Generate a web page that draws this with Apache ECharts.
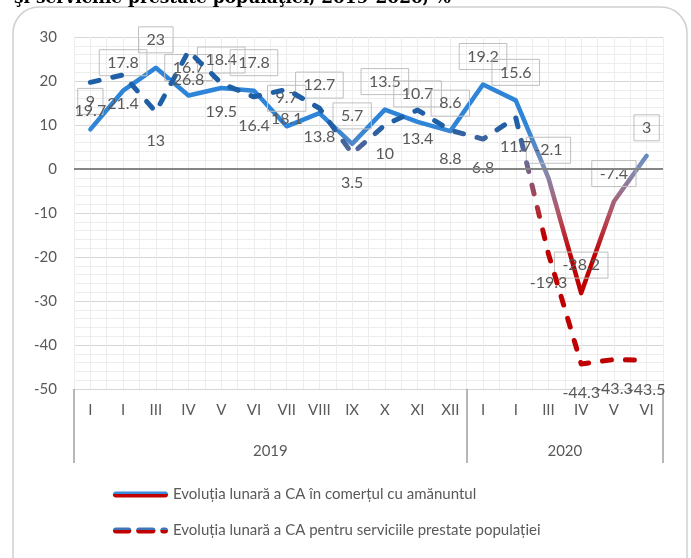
<!DOCTYPE html>
<html>
<head>
<meta charset="utf-8">
<script src="https://cdn.jsdelivr.net/npm/echarts@6/dist/echarts.min.js"></script>
<style>
  html, body { margin: 0; padding: 0; background: #fff; }
  #main { width: 691px; height: 558px; }
</style>
</head>
<body>
<div id="main"></div>
<script>
// luni (eticheta a doua apare ca "I" in original)
const months = ['I', 'I', 'III', 'IV', 'V', 'VI', 'VII', 'VIII', 'IX', 'X', 'XI', 'XII', 'I', 'I', 'III', 'IV', 'V', 'VI']
const years = ['2019', '2020']
const monthsPerYear = [12, 6]

const nameRetail = 'Evoluția lunară a CA în comerțul cu amănuntul'
const nameServices = 'Evoluția lunară a CA pentru serviciile prestate populației'

const retail = [9, 17.8, 23, 16.7, 18.4, 17.8, 9.7, 12.7, 5.7, 13.5, 10.7, 8.6, 19.2, 15.6, -2.1, -28.2, -7.4, 3]
const services = [19.7, 21.4, 13, 26.8, 19.5, 16.4, 18.1, 13.8, 3.5, 10, 13.4, 8.8, 6.8, 11.7, -19.3, -44.3, -43.3, -43.5]

const yMin = -50
const yMax = 30
const yStep = 10

// limitele si centrele grupurilor de ani pe axa 0..18
let bounds = [0]
let centers = []
monthsPerYear.forEach(n => {
    let start = bounds[bounds.length - 1]
    centers.push(start + n / 2)
    bounds.push(start + n)
})
const total = bounds[bounds.length - 1]

const font = 'Lato'
const textColor = '#595959'
const red = '#C00000'

var myChart = echarts.init(document.getElementById('main'))

function halfGradient(top, bottom) {
    return new echarts.graphic.LinearGradient(0, 0, 0, 1, [
        { offset: 0, color: top },
        { offset: 0.5, color: top },
        { offset: 0.5, color: bottom },
        { offset: 1, color: bottom }
    ])
}

var option = {
    animation: false,
    backgroundColor: '#fff',
    textStyle: { fontFamily: font },
    graphic: [
        {
            type: 'rect', z: -10, silent: true,
            shape: { x: 13, y: 7, width: 674, height: 580, r: 26 },
            style: { fill: '#fff', stroke: '#d0d0d0', lineWidth: 1.5 }
        },
        {
            type: 'text', left: 14, top: -10, silent: true,
            style: {
                text: 'şi serviciile prestate populaţiei, 2019-2020, %',
                font: 'bold 17px "DejaVu Serif"', fill: '#000'
            }
        }
    ],
    grid: { left: 74, right: 28, top: 37, bottom: 169 },
    legend: {
        orient: 'vertical',
        left: 108,
        top: 482,
        padding: 5,
        itemGap: 21,
        itemWidth: 55,
        itemHeight: 6,
        textStyle: { fontSize: 15, color: textColor, fontFamily: font },
        data: [
            {
                name: nameRetail,
                icon: 'path://M3,0H54A3,3 0 0 1 54,6H3A3,3 0 0 1 3,0Z',
                itemStyle: { color: halfGradient('#3A8BDB', red), borderWidth: 0 }
            },
            {
                name: nameServices,
                icon: 'path://M3,0H16A3,3 0 0 1 16,6H3A3,3 0 0 1 3,0Z M27,0H41A3,3 0 0 1 41,6H27A3,3 0 0 1 27,0Z M52,0H54A3,3 0 0 1 54,6H52A3,3 0 0 1 52,0Z',
                itemStyle: { color: halfGradient('#3F74B8', red), borderWidth: 0 }
            }
        ]
    },
    visualMap: [
        { show: false, type: 'continuous', seriesIndex: 0, min: -20, max: 10, inRange: { color: [red, '#b25565', '#7f8db5', '#2E85D8'] } },
        { show: false, type: 'continuous', seriesIndex: 1, min: -15, max: 10, inRange: { color: [red, '#a84050', '#6a6a95', '#1F5FA5'] } }
    ],
    xAxis: [
        {
            type: 'category',
            data: months,
            boundaryGap: true,
            position: 'bottom',
            axisLine: { show: false, onZero: false },
            axisTick: { show: false },
            axisLabel: { fontSize: 15, color: textColor, margin: 14, interval: 0 },
            splitLine: { show: false }
        },
        {
            type: 'value',
            min: 0, max: total, interval: 1,
            position: 'bottom',
            axisLine: { show: false, onZero: false },
            axisTick: { show: true, customValues: bounds, length: 74, lineStyle: { color: '#a0a0a0', width: 1.5 } },
            axisLabel: {
                customValues: centers, fontSize: 15, color: textColor, margin: 55,
                formatter: v => years[centers.indexOf(v)] || ''
            },
            splitLine: { show: false }
        },
        {
            type: 'value',
            min: 0, max: total, interval: 0.5,
            axisLine: { show: false, onZero: false },
            axisTick: { show: false },
            axisLabel: { show: false },
            splitLine: { show: true, lineStyle: { color: '#ededed', width: 1 } }
        }
    ],
    yAxis: {
        type: 'value',
        min: yMin, max: yMax, interval: yStep,
        axisLine: { show: false },
        axisTick: { show: false },
        axisLabel: { fontSize: 15, color: textColor, margin: 17 },
        splitLine: { lineStyle: { color: '#d6d6d6', width: 1.2 } },
        minorTick: { show: false, splitNumber: 5 },
        minorSplitLine: { show: true, lineStyle: { color: '#ededed', width: 1 } }
    },
    series: [
        {
            name: nameRetail,
            type: 'line',
            xAxisIndex: 0,
            data: retail,
            symbol: 'circle',
            symbolSize: 0,
            lineStyle: { width: 4.5, cap: 'round', join: 'round' },
            label: {
                show: true, position: 'top', distance: 15,
                fontSize: 16, color: textColor, fontFamily: font,
                padding: [5, 8], borderColor: '#bfbfbf', borderWidth: 1
            },
            z: 3
        },
        {
            name: nameServices,
            type: 'line',
            xAxisIndex: 0,
            data: services,
            symbol: 'circle',
            symbolSize: 0,
            lineStyle: { width: 5, type: [9, 14], cap: 'round', join: 'round' },
            label: {
                show: true, position: 'bottom', distance: 16,
                fontSize: 16, color: textColor, fontFamily: font,
                padding: [5, 8]
            },
            markLine: {
                silent: true,
                symbol: 'none',
                label: { show: false },
                lineStyle: { color: '#868686', width: 1.8, type: 'solid' },
                data: [{ yAxis: 0 }]
            },
            z: 4
        }
    ]
}

option && myChart.setOption(option)
</script>
</body>
</html>
